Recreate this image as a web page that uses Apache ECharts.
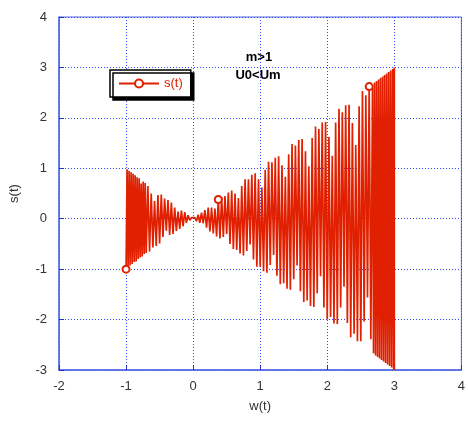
<!DOCTYPE html>
<html>
<head>
<meta charset="utf-8">
<script src="https://cdn.jsdelivr.net/npm/echarts@6/dist/echarts.min.js"></script>
<style>html,body{margin:0;padding:0;background:#fff}#c{width:468px;height:421px}</style>
</head>
<body>
<div id="c"></div>
<script>
var wLeft = [-1.000,-0.985,-0.970,-0.955,-0.940,-0.925,-0.910,-0.895,-0.880,-0.865,-0.850,-0.835,-0.820,-0.805,-0.790,-0.775,-0.760,-0.745,-0.730,-0.715,-0.700];
var sLeft = [-1.00,0.98,-0.97,0.95,-0.93,0.92,-0.90,0.89,-0.86,0.86,-0.85,0.82,-0.80,0.80,-0.77,0.70,-0.75,0.74,-0.70,0.71,-0.68];
var wMid = [
  -0.675,-0.650,-0.625,-0.600,-0.575,-0.550,-0.525,-0.500,-0.475,-0.450,
  -0.425,-0.400,-0.375,-0.350,-0.325,-0.300,-0.275,-0.250,-0.225,-0.200,
  -0.175,-0.150,-0.125,-0.100,-0.075,-0.050,-0.025,0.000,0.025,0.050,
  0.075,0.100,0.125,0.150,0.175,0.200,0.225,0.250,0.275,0.300,
  0.325,0.350,0.375,0.400,0.425,0.450,0.475,0.500,0.525,0.550,
  0.575,0.600,0.625,0.650,0.675,0.700,0.725,0.750,0.775,0.800,
  0.825,0.850,0.875,0.900,0.925,0.950,0.975,1.000,1.025,1.050,
  1.075,1.100,1.125,1.150,1.175,1.200,1.225,1.250,1.275,1.300,
  1.325,1.350,1.375,1.400,1.425,1.450,1.475,1.500,1.525,1.550,
  1.575,1.600,1.625,1.650,1.675,1.700,1.725,1.750,1.775,1.800,
  1.825,1.850,1.875,1.900,1.925,1.950,1.975,2.000,2.025,2.050,
  2.075,2.100,2.125,2.150,2.175,2.200,2.225,2.250,2.275,2.300,
  2.325,2.350,2.375,2.400,2.425,2.450,2.475,2.500,2.525,2.550,
  2.575,2.600,2.625,2.650,2.675
];
var sMid = [
  0.65,-0.65,0.50,-0.57,0.35,-0.54,0.47,-0.49,0.48,-0.36,
  0.40,-0.24,0.37,-0.32,0.32,-0.30,0.22,-0.24,0.14,-0.20,
  0.16,-0.15,0.13,-0.08,0.07,-0.03,0.02,0.00,0.02,-0.05,
  0.08,-0.08,0.12,-0.09,0.17,-0.18,0.22,-0.25,0.22,-0.29,
  0.20,-0.35,0.38,-0.39,0.43,-0.36,0.45,-0.30,0.52,-0.50,
  0.56,-0.60,0.50,-0.62,0.41,-0.69,0.65,-0.73,0.78,-0.64,
  0.78,-0.51,0.87,-0.81,0.90,-0.95,0.78,-0.95,0.62,-1.04,
  0.97,-1.07,1.13,-0.92,1.12,-0.72,1.21,-1.13,1.24,-1.30,
  1.06,-1.28,0.83,-1.39,1.28,-1.41,1.48,-1.20,1.45,-0.93,
  1.56,-1.44,1.58,-1.65,1.34,-1.62,1.04,-1.73,1.60,-1.75,
  1.83,-1.48,1.78,-1.14,1.91,-1.76,1.92,-2.00,1.62,-1.95,
  1.25,-2.08,1.91,-2.09,2.18,-1.76,2.11,-1.35,2.25,-2.07,
  2.26,-2.35,1.90,-2.28,1.46,-2.43,2.23,-2.43,2.53,-2.04,
  2.45,-1.56,2.62,-2.39,2.59
];
var wRight = [2.690,2.705,2.720,2.735,2.750,2.765,2.780,2.795,2.810,2.825,2.840,2.855,2.870,2.885,2.900,2.915,2.930,2.945,2.960,2.975,2.990,3.000,3.000];
var sRight = [-2.67,2.70,-2.71,2.73,-2.74,2.76,-2.77,2.79,-2.80,2.82,-2.83,2.85,-2.86,2.88,-2.89,2.91,-2.92,2.94,-2.95,2.97,-2.98,3.00,-3.00];
// indices (in the joined series) of the points that carry a circle marker
var markerIndex = [0, 63, 153];
var xTicks = [-2,-1,0,1,2,3,4];
var yTicks = [-3,-2,-1,0,1,2,3,4];
var noteLines = ['m>1', 'U0<Um'];

var wValues = wLeft.concat(wMid, wRight);
var sValues = sLeft.concat(sMid, sRight);
var data = wValues.map(function (w, i) {
  return { value: [w, sValues[i]], symbolSize: markerIndex.indexOf(i) >= 0 ? 7 : 0 };
});

var blue = '#5266e0';
var gridBlue = '#2a46ff';
var chart = echarts.init(document.getElementById('c'));
chart.setOption({
  animation: false,
  backgroundColor: '#fff',
  grid: { left: 54, top: 17, right: 1, bottom: 51, show: true, borderColor: blue, borderWidth: 1 },
  xAxis: {
    type: 'value', min: xTicks[0], max: xTicks[xTicks.length - 1], interval: 1,
    name: 'w(t)', nameLocation: 'middle', nameGap: 30,
    nameTextStyle: { color: '#333', fontSize: 13, fontFamily: 'Liberation Sans' },
    axisLine: { onZero: false, lineStyle: { color: blue, width: 1.5 } },
    axisTick: { inside: true, length: 5, lineStyle: { color: '#2233cc' } },
    axisLabel: { color: '#333', fontSize: 13, fontFamily: 'Liberation Sans', margin: 10 },
    splitLine: { show: true, lineStyle: { type: [1, 2], color: gridBlue, width: 1 } }
  },
  yAxis: {
    type: 'value', min: yTicks[0], max: yTicks[yTicks.length - 1], interval: 1,
    name: 's(t)', nameLocation: 'middle', nameGap: 38, nameRotate: 90,
    nameTextStyle: { color: '#333', fontSize: 13, fontFamily: 'Liberation Sans' },
    axisLine: { onZero: false, lineStyle: { color: blue, width: 1.5 } },
    axisTick: { show: true, inside: true, length: 5, lineStyle: { color: '#2233cc' } },
    axisLabel: { color: '#333', fontSize: 13, fontFamily: 'Liberation Sans', margin: 12 },
    splitLine: { show: true, lineStyle: { type: [1, 2], color: gridBlue, width: 1 } }
  },
  legend: {
    left: 110, top: 70, orient: 'horizontal',
    data: ['s(t)'],
    backgroundColor: '#fff', borderColor: '#000', borderWidth: 1.5, borderRadius: 0,
    padding: [7, 8, 7, 8],
    shadowColor: '#000', shadowOffsetX: 3, shadowOffsetY: 3, shadowBlur: 0,
    itemWidth: 40, itemHeight: 10,
    textStyle: { color: '#e02000', fontSize: 13, fontFamily: 'Liberation Sans' }
  },
  graphic: [
    { type: 'text', x: 259, y: 57, style: { text: noteLines[0], align: 'center', verticalAlign: 'middle', font: 'bold 13px "Liberation Sans"', fill: '#000' }, z: 10 },
    { type: 'text', x: 258, y: 75, style: { text: noteLines[1], align: 'center', verticalAlign: 'middle', font: 'bold 13px "Liberation Sans"', fill: '#000' }, z: 10 }
  ],
  series: [{
    name: 's(t)', type: 'line', data: data,
    symbol: 'emptyCircle', showSymbol: true, showAllSymbol: true,
    lineStyle: { color: '#e02000', width: 1.7 },
    itemStyle: { color: '#e02000', borderWidth: 1.2 },
    z: 3
  }]
});
</script>
</body>
</html>
